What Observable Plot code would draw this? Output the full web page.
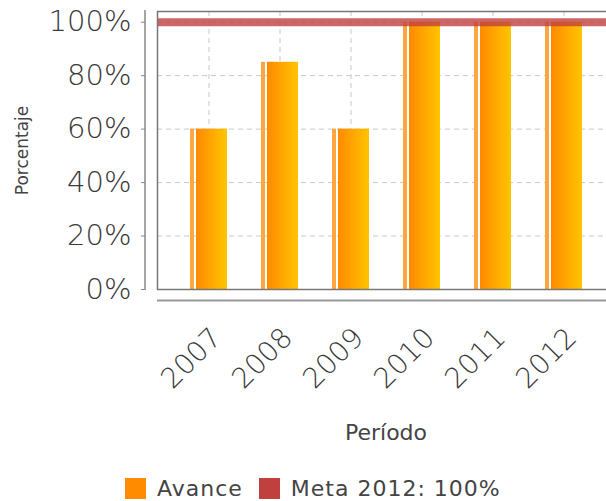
<!DOCTYPE html>
<html>
<head>
<meta charset="utf-8">
<script src="https://cdn.jsdelivr.net/npm/d3@7"></script>
<script src="https://cdn.jsdelivr.net/npm/@observablehq/plot@0.6"></script>
<style>
  html, body { margin: 0; padding: 0; background: #fff; overflow: hidden; width: 606px; height: 501px; }
  #chart { position: absolute; left: 0; top: 0; }
  #legend { position: absolute; left: 125px; top: 478px; display: flex; align-items: center;
            font-family: "DejaVu Sans", sans-serif; font-size: 22px; letter-spacing: 1px; color: #444; }
  #legend .sw { width: 21px; height: 21px; display: inline-block; }
  #legend span.t { line-height: 21px; }
</style>
</head>
<body>
<div id="chart"></div>
<div id="legend"></div>
<script>
const periods = ["2007", "2008", "2009", "2010", "2011", "2012"];
const avance = [60, 85, 60, 100, 100, 100];
const meta = 100;
const yTicks = [0, 20, 40, 60, 80, 100];
const seriesNames = ["Avance", "Meta 2012: 100%"];
const seriesColors = ["#ff8c00", "#c0403e"];

const data = periods.map((p, i) => ({periodo: p, avance: avance[i]}));

const W = 606, H = 462;
const tickColor = "#3a3a3a";

const defsMark = () => {
  const defs = d3.create("svg:defs");
  const g = defs.append("linearGradient").attr("id", "barGrad").attr("x1", "0").attr("x2", "1").attr("y1", "0").attr("y2", "0");
  g.append("stop").attr("offset", "0%").attr("stop-color", "#ff8a00");
  g.append("stop").attr("offset", "100%").attr("stop-color", "#ffc400");
  return defs.node();
};

const yAxisLine = (index, scales, values, dim) => {
  const x = dim.marginLeft - 12;
  return d3.create("svg:line")
    .attr("x1", x).attr("x2", x)
    .attr("y1", dim.marginTop - 1).attr("y2", dim.height - dim.marginBottom + 1)
    .attr("stroke", "#888").attr("stroke-width", 1.5).node();
};

const chart = Plot.plot({
  width: W,
  height: H,
  marginLeft: 157,
  marginRight: -8,
  marginTop: 11,
  marginBottom: H - 289,
  style: {fontFamily: "DejaVu Sans, sans-serif", background: "#fff", overflow: "hidden"},
  x: {domain: periods, paddingInner: 0.483, paddingOuter: 0.437, axis: null},
  y: {domain: [0, 104], axis: null},
  marks: [
    defsMark,
    Plot.gridY(yTicks.filter(d => d > 0), {stroke: "#c8c8c8", strokeOpacity: 1, strokeDasharray: "5,4"}),
    Plot.gridX(periods, {stroke: "#c8c8c8", strokeOpacity: 1, strokeDasharray: "5,4"}),
    Plot.barY(data, {x: "periodo", y: "avance", fill: "#ffa640", insetRight: 33}),
    Plot.barY(data, {x: "periodo", y: "avance", fill: "url(#barGrad)", insetLeft: 6}),
    Plot.ruleY([meta], {stroke: seriesColors[1], strokeWidth: 8, strokeOpacity: 0.8}),
    Plot.frame({stroke: "#777", strokeWidth: 1.5}),
    Plot.ruleY([0], {dy: 11, stroke: "#999", strokeWidth: 2}),
    yAxisLine,
    Plot.axisY(yTicks, {tickFormat: d => d + "%", tickSize: 4, dx: -12, tickPadding: 10, fontSize: 29, fontWeight: 300, color: tickColor, stroke: "#888", label: null}),
    Plot.text(periods, {x: d => d, frameAnchor: "bottom", text: d => d, rotate: -45, textAnchor: "end", lineAnchor: "bottom", dx: 14, dy: 50, fontSize: 28, fontWeight: 300, fill: tickColor}),
    Plot.text(["Período"], {frameAnchor: "bottom", text: d => d, dy: 150, fontSize: 22, fill: "#444", lineAnchor: "bottom", letterSpacing: "2px"}),
    Plot.text(["Porcentaje"], {frameAnchor: "left", text: d => d, rotate: -90, textAnchor: "middle", dx: -135, fontSize: 17, fill: "#444", letterSpacing: "1px"})
  ]
});
document.getElementById("chart").appendChild(chart);

// legend
const legend = d3.select("#legend");
seriesNames.forEach((name, i) => {
  legend.append("span").attr("class", "sw").style("background", seriesColors[i]).style("margin-right", "11px");
  legend.append("span").attr("class", "t").text(name).style("margin-right", i === 0 ? "16px" : "0px");
});
</script>
</body>
</html>
